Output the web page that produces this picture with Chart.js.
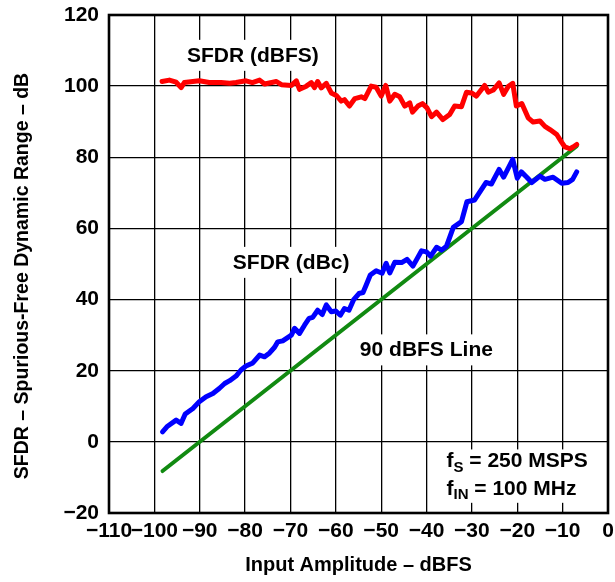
<!DOCTYPE html>
<html>
<head>
<meta charset="utf-8">
<script src="https://cdn.jsdelivr.net/npm/chart.js@4.4.1/dist/chart.umd.min.js"></script>
<style>
  html, body { margin: 0; padding: 0; background: #fff; }
  #wrap { width: 615px; height: 582px; position: relative; }
</style>
</head>
<body>
<div id="wrap"><canvas id="c"></canvas></div>
<script>
// ---- data ----
const xTicks = [-110, -100, -90, -80, -70, -60, -50, -40, -30, -20, -10, 0];
const yTicks = [-20, 0, 20, 40, 60, 80, 100, 120];

const redX = [-98.3,-96.7,-95.2,-94.1,-93.4,-90.1,-87.9,-85.3,-83.4,-82.0,-79.8,-78.4,-76.8,-75.7,-73.1,-72.0,-69.8,-68.7,-68.0,-66.5,-65.4,-64.7,-64.0,-63.2,-62.1,-61.0,-59.9,-58.8,-58.1,-57.0,-55.8,-54.4,-53.6,-52.2,-51.1,-50.0,-49.0,-48.1,-47.0,-45.9,-44.8,-43.7,-43.1,-41.9,-40.9,-39.9,-38.9,-37.8,-36.4,-34.9,-33.8,-32.3,-31.2,-30.1,-29.0,-27.2,-26.4,-25.3,-24.0,-23.0,-22.0,-21.0,-20.2,-19.0,-17.6,-16.5,-15.0,-13.9,-12.8,-11.3,-10.2,-9.5,-8.4,-7.7,-6.9];
const redY = [101.3,101.7,101.1,99.6,101.0,101.5,101.0,101.0,100.8,101.0,101.5,101.0,101.7,100.6,101.3,100.4,100.2,101.5,99.1,100.0,101.0,99.6,101.3,99.5,100.8,98.1,97.4,95.8,96.2,94.4,96.5,97.0,96.5,100.0,99.7,97.2,100.2,95.8,97.7,97.0,94.4,95.3,92.7,94.4,95.1,93.9,91.4,92.7,90.6,92.0,94.4,94.2,98.3,98.1,97.2,100.2,98.3,98.9,100.9,97.7,99.9,100.8,94.4,95.1,91.1,89.9,90.2,88.7,87.8,86.4,84.2,82.9,82.4,82.9,83.6];

const blueX = [-98.2,-97.1,-95.2,-94.1,-93.2,-91.5,-90.1,-88.6,-87.1,-85.7,-84.5,-83.4,-82.0,-80.9,-79.8,-78.3,-76.8,-75.7,-74.6,-73.5,-72.8,-71.7,-69.8,-69.1,-68.0,-66.9,-65.9,-65.1,-64.0,-63.0,-62.1,-61.0,-60.0,-59.0,-58.1,-57.1,-56.1,-54.9,-54.0,-53.3,-52.4,-51.1,-49.8,-48.9,-48.1,-47.0,-45.5,-44.3,-43.0,-41.1,-40.0,-39.1,-37.8,-36.7,-35.6,-34.1,-32.3,-31.1,-29.4,-26.9,-25.7,-24.0,-23.0,-21.0,-20.0,-19.1,-17.9,-16.8,-15.0,-13.9,-12.1,-10.2,-8.8,-7.8,-6.9];
const blueY = [2.8,4.4,6.1,5.2,7.8,9.4,11.3,12.7,13.6,15.0,16.4,17.2,18.5,20.2,21.3,22.2,24.4,23.9,25.0,26.6,28.1,28.4,30.0,31.9,30.5,32.8,34.7,35.0,37.0,35.8,38.5,36.6,36.8,35.6,37.5,37.0,39.9,41.7,42.0,44.1,46.9,48.1,47.4,50.2,47.5,50.5,50.4,51.3,49.4,53.7,53.4,52.2,54.7,53.9,55.0,60.3,61.9,67.5,68.0,72.9,72.5,76.6,74.4,79.4,74.1,75.9,74.4,72.9,74.7,73.8,74.4,72.7,72.9,73.8,75.9];

const greenX = [-98.2, -6.9];
const greenY = [-8.2, 83.1];

const xTitle = 'Input Amplitude – dBFS';
const yTitle = 'SFDR – Spurious-Free Dynamic Range – dB';

// annotations: [text, x (data), y (data)]
const labels = [
  ['SFDR (dBFS)', -92.8, 108.8],
  ['SFDR (dBc)', -82.7, 50.6],
  ['90 dBFS Line', -54.7, 26.0]
];
const condLines = [
  ['f', 'S', ' = 250 MSPS', -35.6, -5.5],
  ['f', 'IN', ' = 100 MHz', -35.6, -13.2]
];

const FONT = '"Liberation Sans", Arial, Helvetica, sans-serif';
const pts = (xs, ys) => xs.map((x, i) => ({x: x, y: ys[i]}));
const fmt = v => (v < 0 ? '\u2212' + Math.abs(v) : String(v));

const annotPlugin = {
  id: 'annot',
  beforeDatasetsDraw(chart) {
    const {ctx, scales: {x, y}, chartArea: a} = chart;
    ctx.save();
    ctx.font = 'bold 21px ' + FONT;
    ctx.textBaseline = 'middle';
    ctx.textAlign = 'left';
    labels.forEach(([t, dx, dy]) => {
      const px = x.getPixelForValue(dx), py = y.getPixelForValue(dy);
      const w = ctx.measureText(t).width;
      ctx.fillStyle = '#fff';
      ctx.fillRect(px - 5, py - 15, w + 10, 31);
      ctx.fillStyle = '#000';
      ctx.fillText(t, px, py + 1);
    });
    // conditions box
    const bx = x.getPixelForValue(condLines[0][3]);
    const by1 = y.getPixelForValue(condLines[0][4]);
    const by2 = y.getPixelForValue(condLines[1][4]);
    ctx.fillStyle = '#fff';
    ctx.fillRect(bx - 6, by1 - 12, a.right - bx + 4, by2 - by1 + 26);
    condLines.forEach(([f, sub, rest, dx, dy]) => {
      let px = x.getPixelForValue(dx);
      const py = y.getPixelForValue(dy);
      ctx.fillStyle = '#000';
      ctx.font = 'bold 21px ' + FONT;
      ctx.fillText(f, px, py);
      px += ctx.measureText(f).width;
      ctx.font = 'bold 15px ' + FONT;
      ctx.fillText(sub, px, py + 6);
      px += ctx.measureText(sub).width;
      ctx.font = 'bold 21px ' + FONT;
      ctx.fillText(rest, px, py);
    });
    ctx.restore();
  },
  afterDraw(chart) {
    const {ctx, chartArea: a} = chart;
    ctx.save();
    ctx.strokeStyle = '#000';
    ctx.lineWidth = 2.6;
    ctx.strokeRect(a.left, a.top, a.right - a.left, a.bottom - a.top);
    // y axis title
    ctx.font = 'bold 19.5px ' + FONT;
    ctx.fillStyle = '#000';
    ctx.textAlign = 'center';
    ctx.textBaseline = 'middle';
    ctx.translate(23, 276);
    ctx.rotate(-Math.PI / 2);
    ctx.fillText(yTitle, 0, 0);
    ctx.restore();
  }
};

new Chart(document.getElementById('c'), {
  type: 'line',
  data: {
    datasets: [
      {label: 'SFDR (dBc)', data: pts(blueX, blueY), borderColor: '#0000ff', borderWidth: 5, order: 1},
      {label: 'SFDR (dBFS)', data: pts(redX, redY), borderColor: '#ff0000', borderWidth: 5, order: 2},
      {label: '90 dBFS Line', data: pts(greenX, greenY), borderColor: '#118a11', borderWidth: 4, order: 3}
    ]
  },
  options: {
    responsive: true,
    maintainAspectRatio: false,
    animation: false,
    events: [],
    layout: {padding: {top: 15, right: 7, left: 0, bottom: 0}},
    elements: {
      point: {radius: 0},
      line: {tension: 0, borderJoinStyle: 'round', borderCapStyle: 'round', fill: false}
    },
    plugins: {legend: {display: false}, tooltip: {enabled: false}},
    scales: {
      x: {
        type: 'linear', min: -110, max: 0,
        afterBuildTicks: s => { s.ticks = xTicks.map(v => ({value: v})); },
        afterFit: s => { s.height = 69; },
        grid: {color: '#000', lineWidth: 1.3, drawTicks: true, tickLength: 6, tickColor: 'rgba(0,0,0,0)'},
        border: {display: false},
        ticks: {
          autoSkip: false, maxRotation: 0, padding: 0, color: '#000',
          font: {family: FONT, size: 21, weight: 'bold'},
          callback: v => fmt(v)
        },
        title: {display: true, text: xTitle, color: '#000', padding: {top: 0, bottom: 5},
          font: {family: FONT, size: 20, weight: 'bold'}}
      },
      y: {
        min: -20, max: 120,
        afterBuildTicks: s => { s.ticks = yTicks.map(v => ({value: v})); },
        afterFit: s => { s.width = 109; },
        grid: {color: '#000', lineWidth: 1.3, drawTicks: true, tickLength: 10, tickColor: 'rgba(0,0,0,0)'},
        border: {display: false},
        ticks: {
          padding: 0, color: '#000',
          font: {family: FONT, size: 21, weight: 'bold'},
          callback: v => fmt(v)
        }
      }
    }
  },
  plugins: [annotPlugin]
});
</script>
</body>
</html>
